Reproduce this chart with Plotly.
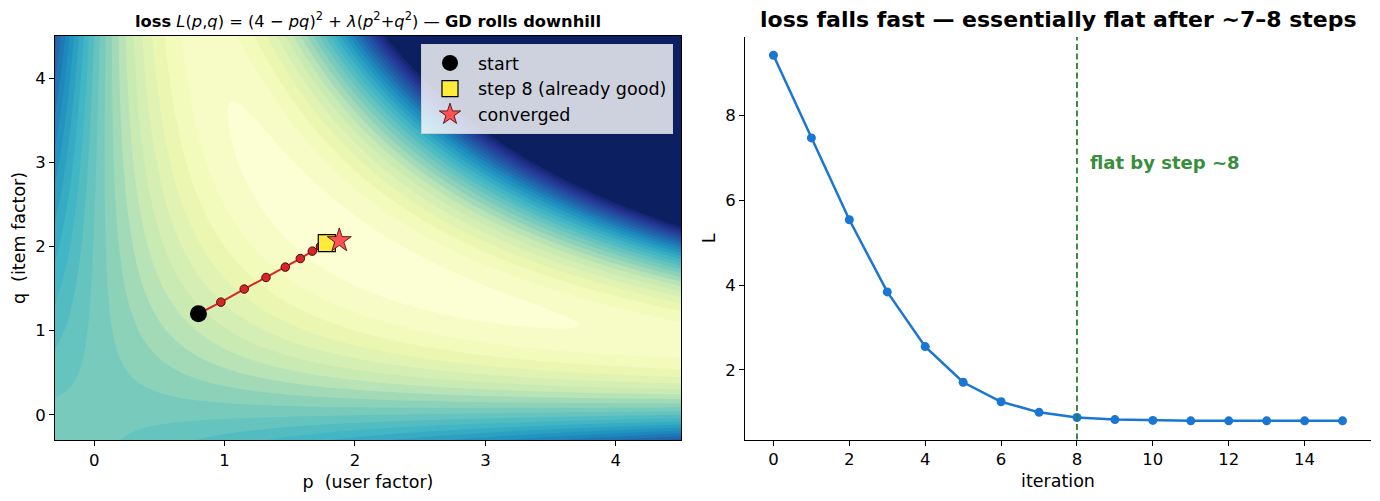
import numpy as np
import plotly.graph_objects as go

# ---------------- data ----------------
TARGET = 4.0          # rating r in (r - p q)^2
LAM = 0.1             # lambda (regularisation)
CAP = 40.0            # loss surface clipped for colouring
P_RANGE = (-0.3, 4.5)
Q_RANGE = (-0.3, 4.5)

# gradient-descent path (steps 0..8)
path_p = [0.80, 0.972, 1.151, 1.318, 1.466, 1.581, 1.673, 1.735, 1.784]
path_q = [1.20, 1.338, 1.493, 1.631, 1.754, 1.856, 1.944, 2.000, 2.039]
start_pt = (0.80, 1.20)
step8_pt = (1.784, 2.039)
conv_pt = (1.880, 2.070)

# loss per iteration (right panel)
iterations = list(range(16))
loss_vals = [9.42, 7.47, 5.54, 3.84, 2.55, 1.71, 1.25, 1.00, 0.88,
             0.83, 0.81, 0.80, 0.80, 0.80, 0.80, 0.80]
flat_step = 8

# ---------------- loss surface ----------------
p_grid = np.linspace(P_RANGE[0], P_RANGE[1], 241)
q_grid = np.linspace(Q_RANGE[0], Q_RANGE[1], 241)
PP, QQ = np.meshgrid(p_grid, q_grid)
Z = (TARGET - PP * QQ) ** 2 + LAM * (PP ** 2 + QQ ** 2)
Z = np.minimum(Z, CAP)

LEV_SIZE = 1.5
LEV_END = 39.0

ylgnbu = ['#ffffd9', '#edf8b1', '#c7e9b4', '#7fcdbb', '#41b6c4',
          '#1d91c0', '#225ea8', '#253494', '#081d58']


def hex2rgb(h):
    h = h.lstrip('#')
    return np.array([int(h[i:i + 2], 16) for i in (0, 2, 4)], dtype=float)


_rgb = np.array([hex2rgb(c) for c in ylgnbu])
_pos = np.linspace(0, 1, len(ylgnbu))


def ylgnbu_at(t):
    t = min(max(t, 0.0), 1.0)
    return [float(np.interp(t, _pos, _rgb[:, k])) for k in range(3)]


# plotly maps contour bands on [start - size/2, end + size/2];
# shift so each band gets the matplotlib-like colour of its midpoint
top = LEV_END + LEV_SIZE
cscale = []
for f in np.linspace(0, 1, 61):
    z_mid = f * (top) - LEV_SIZE / 2
    r, g, b = ylgnbu_at(z_mid / top)
    cscale.append([float(f), f'rgb({r:.0f},{g:.0f},{b:.0f})'])

FONT = "DejaVu Sans"
fig = go.Figure()

fig.add_trace(go.Contour(
    x=p_grid, y=q_grid, z=Z,
    colorscale=cscale, showscale=False,
    contours=dict(start=0, end=LEV_END, size=LEV_SIZE, coloring='fill'),
    line=dict(width=0), hoverinfo='skip', showlegend=False,
    xaxis='x', yaxis='y'))

fig.add_trace(go.Scatter(
    x=path_p, y=path_q, mode='lines+markers',
    line=dict(color='#d62728', width=2),
    marker=dict(size=8.5, color='#d62728', line=dict(color='#4a0a0a', width=1)),
    showlegend=False, hoverinfo='skip', xaxis='x', yaxis='y'))

fig.add_trace(go.Scatter(
    x=[start_pt[0]], y=[start_pt[1]], mode='markers', name='start', legendgroup='a',
    marker=dict(size=17, color='black', symbol='circle'),
    xaxis='x', yaxis='y'))
fig.add_trace(go.Scatter(
    x=[step8_pt[0]], y=[step8_pt[1]], mode='markers', name='step 8 (already good)',
    legendgroup='b',
    marker=dict(size=17, color='#ffeb3b', symbol='square', line=dict(color='black', width=1.2)),
    xaxis='x', yaxis='y'))
fig.add_trace(go.Scatter(
    x=[conv_pt[0]], y=[conv_pt[1]], mode='markers', name='converged', legendgroup='c',
    marker=dict(size=18, color='#ff5252', symbol='star', line=dict(color='#3a0000', width=0.8)),
    xaxis='x', yaxis='y'))

fig.add_trace(go.Scatter(
    x=iterations, y=loss_vals, mode='lines+markers',
    line=dict(color='#1976d2', width=2.5),
    marker=dict(size=9, color='#1976d2'),
    showlegend=False, xaxis='x2', yaxis='y2'))

fig.add_shape(type='line', xref='x2', yref='y2 domain', x0=flat_step, x1=flat_step,
              y0=0, y1=1, line=dict(color='#2e7d32', width=1.8, dash='6px,3.5px'))
fig.add_annotation(xref='x2', yref='y2', x=flat_step + 0.28, y=6.9, xanchor='left',
                   yanchor='middle', showarrow=False,
                   text='<b>flat by step ~8</b>',
                   font=dict(family=FONT, size=18, color='#388e3c'))

# titles
fig.add_annotation(xref='paper', yref='paper', x=368 / 1380, y=(501 - 20) / 501,
                   xanchor='center', yanchor='middle', showarrow=False,
                   text='<b>loss</b> <i>L</i>(<i>p</i>,<i>q</i>) = (4 − <i>pq</i>)<sup>2</sup> + '
                        '<i>λ</i>(<i>p</i><sup>2</sup>+<i>q</i><sup>2</sup>) — <b>GD rolls downhill</b>',
                   font=dict(family=FONT, size=16.3, color='black'))
fig.add_annotation(xref='paper', yref='paper', x=1058 / 1380, y=(501 - 20) / 501,
                   xanchor='center', yanchor='middle', showarrow=False,
                   text='<b>loss falls fast — essentially flat after ~7–8 steps</b>',
                   font=dict(family=FONT, size=22, color='black'))

axis_common = dict(showgrid=False, zeroline=False, ticks='outside', ticklen=5,
                   tickwidth=1, tickcolor='black', linecolor='black', linewidth=1,
                   showline=True, tickfont=dict(family=FONT, size=16.5, color='black'))

fig.update_layout(
    width=1380, height=501, margin=dict(l=0, r=0, t=0, b=0),
    paper_bgcolor='white', plot_bgcolor='white',
    font=dict(family=FONT, color='black'),
    xaxis=dict(domain=[55 / 1380, 681 / 1380], range=list(P_RANGE), mirror=True,
               tickvals=[0, 1, 2, 3, 4], anchor='y',
               title=dict(text='p\u00a0 (user factor)', standoff=6,
                          font=dict(family=FONT, size=17.5)), **axis_common),
    yaxis=dict(domain=[(501 - 440) / 501, (501 - 36) / 501], range=list(Q_RANGE), mirror=True,
               tickvals=[0, 1, 2, 3, 4], anchor='x',
               title=dict(text='q\u00a0 (item factor)', standoff=5,
                          font=dict(family=FONT, size=17.5)), **axis_common),
    xaxis2=dict(domain=[745 / 1380, 1371 / 1380], range=[-0.75, 15.75], anchor='y2',
                tickvals=[0, 2, 4, 6, 8, 10, 12, 14],
                title=dict(text='iteration', standoff=6, font=dict(family=FONT, size=17.5)),
                **axis_common),
    yaxis2=dict(domain=[(501 - 439.5) / 501, (501 - 37) / 501], range=[0.36, 9.85], anchor='x2',
                tickvals=[2, 4, 6, 8],
                title=dict(text='L', standoff=5, font=dict(family=FONT, size=17.5)),
                **axis_common),
    legend=dict(x=673 / 1380, y=(501 - 44) / 501, xanchor='right', yanchor='top',
                bgcolor='rgba(255,255,255,0.8)', bordercolor='#cccccc', borderwidth=1,
                itemwidth=46, tracegroupgap=0,
                font=dict(family=FONT, size=17.5, color='black')),
)

fig.write_html("out.html")
